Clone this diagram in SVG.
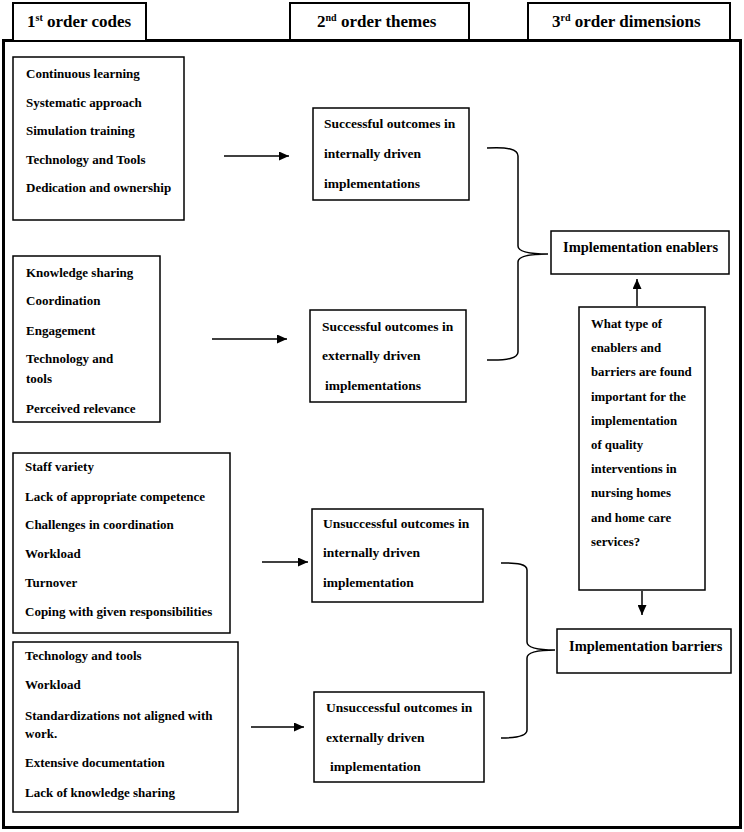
<svg xmlns="http://www.w3.org/2000/svg" width="744" height="832" viewBox="0 0 744 832">
<defs>
<style>
text{font-family:"Liberation Serif","Times New Roman",serif;font-weight:bold;fill:#000}
.hd{font-size:17px}
.sup{font-size:10px}
.li{font-size:13px}
.th{font-size:13.5px}
.dm{font-size:14.5px}
.q{font-size:12.8px}
.box{fill:#fff;stroke:#000;stroke-width:1.5}
.tab{fill:#fff;stroke:#000;stroke-width:2}
.con{fill:none;stroke:#000;stroke-width:1.5}
</style>
<marker id="ah" markerUnits="userSpaceOnUse" markerWidth="10" markerHeight="9" refX="10" refY="4.5" orient="auto">
<path d="M0,0 L10,4.5 L0,9 z" fill="#000"/>
</marker>
</defs>
<rect width="744" height="832" fill="#fff"/>
<rect id="frame" x="3.5" y="40.5" width="737" height="787" fill="none" stroke="#000" stroke-width="3"/>
<g id="tab1"><rect class="tab" x="13" y="3" width="133" height="38"/><text class="hd" x="27" y="27">1<tspan class="sup" dy="-6">st</tspan><tspan dy="6"> order codes</tspan></text></g>
<g id="tab2"><rect class="tab" x="290" y="3" width="179" height="37"/><text class="hd" x="317" y="27">2<tspan class="sup" dy="-6">nd</tspan><tspan dy="6"> order themes</tspan></text></g>
<g id="tab3"><rect class="tab" x="528" y="3" width="202" height="37"/><text class="hd" x="552" y="27">3<tspan class="sup" dy="-6">rd</tspan><tspan dy="6"> order dimensions</tspan></text></g>

<g id="codes1"><rect class="box" x="13" y="57" width="171" height="163"/>
<text class="li" x="26" y="78">Continuous learning</text>
<text class="li" x="26" y="107">Systematic approach</text>
<text class="li" x="26" y="135">Simulation training</text>
<text class="li" x="26" y="164">Technology and Tools</text>
<text class="li" x="26" y="192">Dedication and ownership</text></g>

<g id="codes2"><rect class="box" x="13" y="256" width="147" height="166"/>
<text class="li" x="26" y="277">Knowledge sharing</text>
<text class="li" x="26" y="305">Coordination</text>
<text class="li" x="26" y="335">Engagement</text>
<text class="li" x="26" y="363">Technology and</text>
<text class="li" x="26" y="383">tools</text>
<text class="li" x="26" y="413">Perceived relevance</text></g>

<g id="codes3"><rect class="box" x="13" y="453" width="217" height="180"/>
<text class="li" x="25" y="471">Staff variety</text>
<text class="li" x="25" y="501">Lack of appropriate competence</text>
<text class="li" x="25" y="529">Challenges in coordination</text>
<text class="li" x="25" y="558">Workload</text>
<text class="li" x="25" y="587">Turnover</text>
<text class="li" x="25" y="616">Coping with given responsibilities</text></g>

<g id="codes4"><rect class="box" x="13" y="642" width="225" height="170"/>
<text class="li" x="25" y="660">Technology and tools</text>
<text class="li" x="25" y="689">Workload</text>
<text class="li" x="25" y="720">Standardizations not aligned with</text>
<text class="li" x="25" y="738">work.</text>
<text class="li" x="25" y="767">Extensive documentation</text>
<text class="li" x="25" y="797">Lack of knowledge sharing</text></g>

<g id="theme1"><rect class="box" x="313" y="108" width="156" height="92"/>
<text class="th" x="324" y="128">Successful outcomes in</text>
<text class="th" x="324" y="158">internally driven</text>
<text class="th" x="324" y="188">implementations</text></g>

<g id="theme2"><rect class="box" x="310" y="310" width="156" height="92"/>
<text class="th" x="322" y="331">Successful outcomes in</text>
<text class="th" x="322" y="360">externally driven</text>
<text class="th" x="325" y="390">implementations</text></g>

<g id="theme3"><rect class="box" x="312" y="509" width="171" height="93"/>
<text class="th" x="323" y="528">Unsuccessful outcomes in</text>
<text class="th" x="323" y="557">internally driven</text>
<text class="th" x="323" y="587">implementation</text></g>

<g id="theme4"><rect class="box" x="314" y="692" width="170" height="90"/>
<text class="th" x="326" y="712">Unsuccessful outcomes in</text>
<text class="th" x="326" y="742">externally driven</text>
<text class="th" x="330" y="771">implementation</text></g>

<g id="enablers"><rect class="box" x="551" y="231" width="178" height="43"/>
<text class="dm" x="563" y="252">Implementation enablers</text></g>

<g id="barriers"><rect class="box" x="557" y="629" width="174" height="44"/>
<text class="dm" x="569" y="651">Implementation barriers</text></g>

<g id="question"><rect class="box" x="579" y="307" width="126" height="283" stroke-width="2"/>
<text class="q" x="591" y="328">What type of</text>
<text class="q" x="591" y="352">enablers and</text>
<text class="q" x="591" y="376">barriers are found</text>
<text class="q" x="591" y="401">important for the</text>
<text class="q" x="591" y="425">implementation</text>
<text class="q" x="591" y="449">of quality</text>
<text class="q" x="591" y="473">interventions in</text>
<text class="q" x="591" y="497">nursing homes</text>
<text class="q" x="591" y="522">and home care</text>
<text class="q" x="591" y="546">services?</text></g>

<g id="connectors">
<path class="con" d="M224,156 L289,156" marker-end="url(#ah)"/>
<path class="con" d="M212,339 L287,339" marker-end="url(#ah)"/>
<path class="con" d="M262,562 L308,562" marker-end="url(#ah)"/>
<path class="con" d="M251,727 L304,727" marker-end="url(#ah)"/>
<path class="con" d="M637,306 L637,279" marker-end="url(#ah)"/>
<path class="con" d="M642,591 L642,615" marker-end="url(#ah)"/>
<path class="con" d="M487,148 Q518,146 518,156 L518,246 Q518,254 548,254 Q518,254 518,262 L518,352 Q518,361 487,360"/>
<path class="con" d="M501,563 Q527,562 527,570 L527,642 Q527,650 555,650 Q527,650 527,658 L527,730 Q527,738 501,738"/>
</g>
</svg>
